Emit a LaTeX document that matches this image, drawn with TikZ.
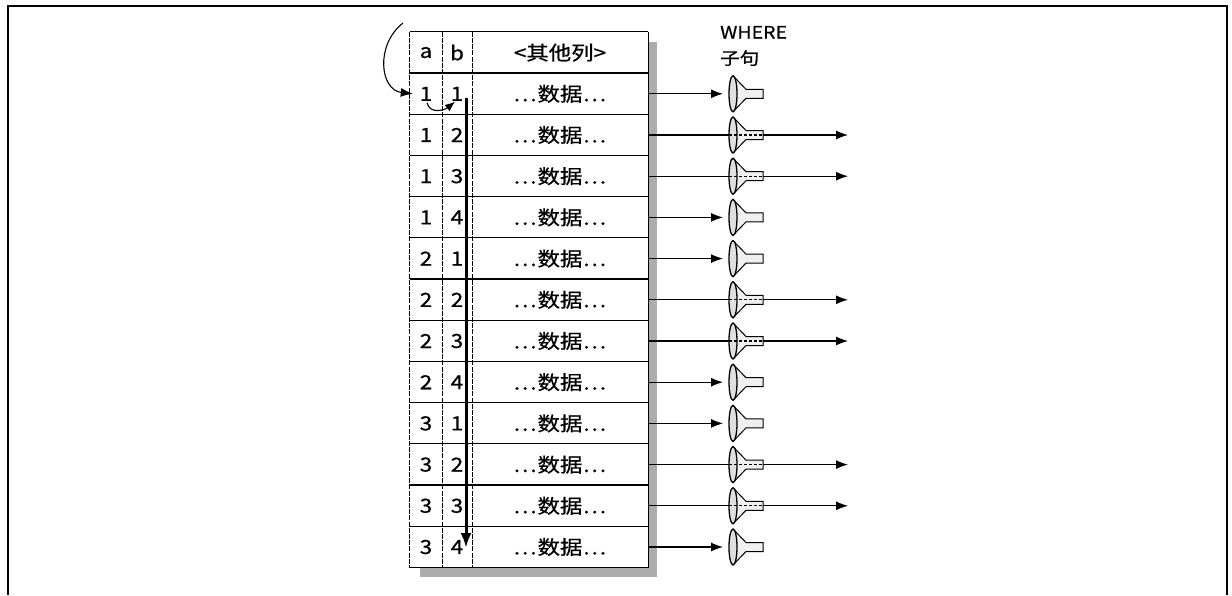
\documentclass[tikz,border=0pt]{standalone}
\usepackage{fontspec}
\setmainfont{Noto Sans CJK SC}[FakeStretch=1.15, FakeBold=0.7]
\usetikzlibrary{arrows.meta}
\newcommand\spdots{.\hspace{2pt}.\hspace{2pt}.}

\begin{document}
\begin{tikzpicture}[x=1pt, y=-1pt,
    cell/.style={rectangle, minimum height=41.2pt, inner sep=0pt, font=\fontsize{19.5}{21}\selectfont},
    grid/.style={line width=1.3pt},
    vgrid/.style={line width=1pt, dash pattern=on 5pt off 1.2pt},
    arrow/.style={-{Latex[length=12pt, width=9pt]}, line width=1.1pt},
    funnel/.pic={
        \fill[gray!12] (0,-18) -- (13,-4.5) -- (30,-4.5) -- (30,4.5) -- (13,4.5) -- (0,18) -- cycle;
        \draw[line width=1pt] (0,-18) -- (13,-4.5) -- (30,-4.5) -- (30,4.5) -- (13,4.5) -- (0,18);
        \draw[line width=1.3pt, fill=gray!25] (0,0) ellipse [x radius=4, y radius=18];
    }
]
    \useasboundingbox (0,0) rectangle (1232,595);
    % Rahmen
    \draw[line width=1.5pt] (8,595) -- (8,6) -- (1227,6) -- (1227,595);

    % Schatten und Tabelle
    \fill[gray!65] (648,42) rectangle (657,577);
    \fill[gray!65] (420,567) rectangle (657,577);
    \fill[white] (410,32) rectangle (648,567.6);

    \node[cell, minimum width=32pt] (ha) at (426,52.6) {a};
    \node[cell, minimum width=30pt] (hb) at (457,52.6) {b};
    \node[cell, minimum width=176pt] (hd) at (560,52.6) {<其他列>};

    \foreach \i/\ra/\rb/\pass in {1/1/1/0, 2/1/2/1, 3/1/3/1, 4/1/4/0, 5/2/1/0, 6/2/2/1,
                                  7/2/3/1, 8/2/4/0, 9/3/1/0, 10/3/2/1, 11/3/3/1, 12/3/4/0} {
        \node[cell, minimum width=32pt] (a\i) at (426,52.6+41.2*\i) {\ra};
        \node[cell, minimum width=30pt] (b\i) at (457,52.6+41.2*\i) {\rb};
        \node[cell, minimum width=176pt] (d\i) at (560,52.6+41.2*\i) {\spdots\hspace{1pt}数据\hspace{1pt}\spdots};
        \draw[grid] (a\i.north west) -- (d\i.north east);
    }
    \draw[grid] (ha.north west) -- (hd.north east);
    \draw[grid] (a12.south west) -- (d12.south east);
    \draw[grid] (hd.north east) -- (d12.south east);
    \draw[vgrid] (ha.north west) -- (a12.south west);
    \draw[vgrid] (ha.north east) -- (a12.south east);
    \draw[vgrid] (hb.north east) -- (b12.south east);

    % WHERE-Filter
    \node[align=left, anchor=west, inner sep=0pt, font=\fontsize{17}{26}\selectfont] (where) at (720,46) {WHERE\\子句};
    \foreach \i/\pass in {1/0, 2/1, 3/1, 4/0, 5/0, 6/1, 7/1, 8/0, 9/0, 10/1, 11/1, 12/0} {
        \pic at (733,52.6+41.2*\i) {funnel};
        \coordinate (in\i) at (723,52.6+41.2*\i);
        \coordinate (fw\i) at (729,52.6+41.2*\i);
        \coordinate (fe\i) at (763,52.6+41.2*\i);
        \coordinate (out\i) at (848,52.6+41.2*\i);
        \ifnum\pass=1
            \draw[line width=1.1pt] (d\i.east) -- (fw\i);
            \draw[line width=1.1pt, densely dashed] (fw\i) -- (fe\i);
            \draw[arrow] (fe\i) -- (out\i);
        \else
            \draw[arrow] (d\i.east) -- (in\i);
        \fi
    }

    % Lesereihenfolge
    \coordinate (loopstart) at (403,23);
    \coordinate (vtop) at (466,98);
    \coordinate (vbot) at (466,548);
    \draw[arrow] (loopstart) .. controls (375,45) and (380,90) .. ([xshift=3pt]a1.west);
    \draw[-{Latex[length=10pt, width=8pt]}, line width=1.1pt] ([shift={(1,9)}]a1.center) .. controls +(3,12) and +(-10,8) .. ([shift={(-2,8)}]b1.center);
    \draw[-{Latex[length=15pt, width=11pt]}, line width=3pt] (vtop) -- (vbot);
\end{tikzpicture}
\end{document}
